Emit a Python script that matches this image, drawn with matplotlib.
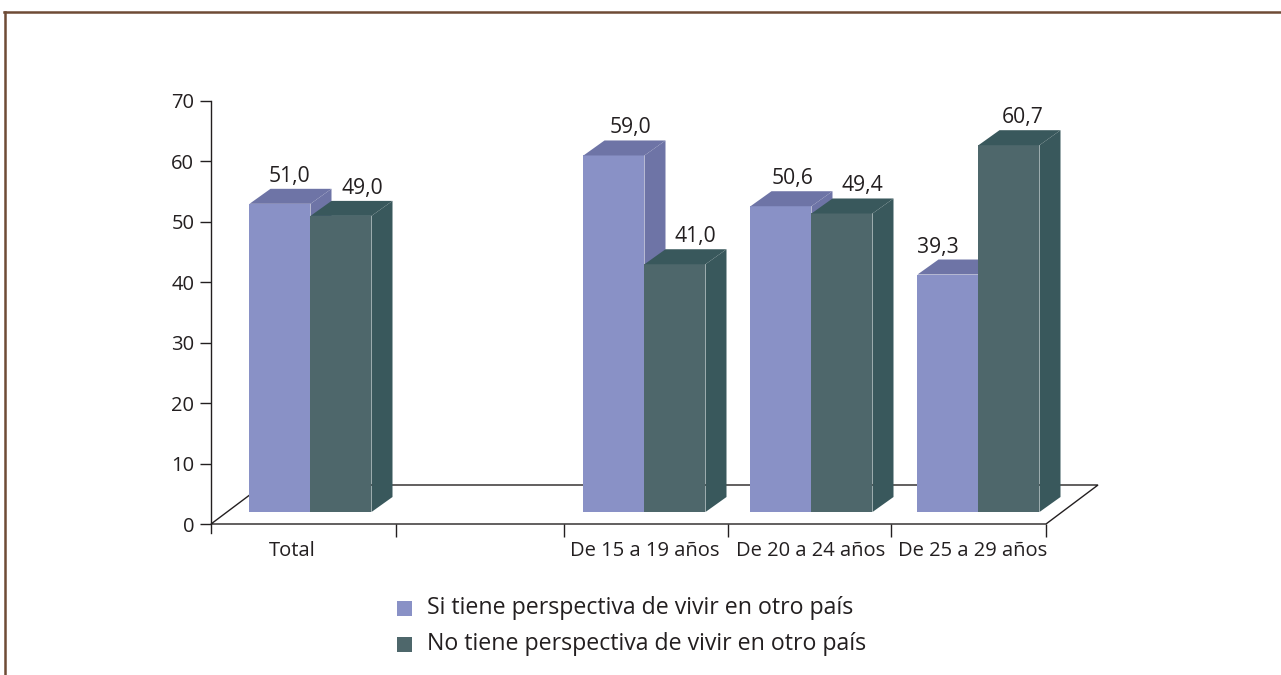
import matplotlib.pyplot as plt
from matplotlib.patches import Polygon, Rectangle
from matplotlib.lines import Line2D

# datos
categorias = ["Total", "De 15 a 19 años", "De 20 a 24 años", "De 25 a 29 años"]
posiciones = [0, 2, 3, 4]          # hueco vacío entre Total y los grupos de edad
si_tiene = [51.0, 59.0, 50.6, 39.3]
no_tiene = [49.0, 41.0, 49.4, 60.7]
series = ["Si tiene perspectiva de vivir en otro país",
          "No tiene perspectiva de vivir en otro país"]
etiquetas_y = [0, 10, 20, 30, 40, 50, 60, 70]

# colores (frente, techo/lateral)
col_si = ("#8991c6", "#6e74a6")
col_no = ("#4e676b", "#39585c")
texto = "#231f20"
marco = "#6e4b35"

plt.rcParams["font.family"] = ["Open Sans", "DejaVu Sans"]
plt.rcParams["font.size"] = 14.5

W, H = 1281, 675
fig = plt.figure(figsize=(W / 100, H / 100), dpi=100)

# caja de ejes en pixeles (izq, arriba, der, abajo)
L, T, R, B = 211, 101, 1046, 524
ax = fig.add_axes([L / W, 1 - B / H, (R - L) / W, (B - T) / H])
xmin, xmax = -0.5, 4.5
ymax = 70
ax.set_xlim(xmin, xmax)
ax.set_ylim(0, ymax)
for s in ax.spines.values():
    s.set_visible(False)


def pxx(p):
    return p * (xmax - xmin) / (R - L)


def pxy(p):
    return p * ymax / (B - T)


# profundidades en pixeles
fondo_dx, fondo_dy = pxx(52), pxy(39)      # piso
plano_dx, plano_dy = pxx(16), pxy(12)      # plano de las barras
barra_dx, barra_dy = pxx(21), pxy(15)      # profundidad de cada barra
ancho = pxx(61)

# piso
piso = Polygon([(xmin, 0), (xmax, 0), (xmax + fondo_dx, fondo_dy),
                (xmin + fondo_dx, fondo_dy)], closed=True, facecolor="white",
               edgecolor=texto, lw=1, zorder=1, clip_on=False)
ax.add_patch(piso)

# eje y prolongado bajo el piso
ax.add_line(Line2D([xmin, xmin], [-pxy(9), ymax], color=texto, lw=1,
                   clip_on=False, zorder=2))
ax.set_yticks(etiquetas_y)
ax.tick_params(axis="y", direction="out", length=8, width=1, color=texto,
               labelcolor=texto, pad=4)

# marcas del eje x
marcas_x = [0.608, 1.614, 2.596, 3.572, xmax]
ax.set_xticks(marcas_x)
ax.set_xticklabels([])
ax.tick_params(axis="x", direction="out", length=9, width=1, color=texto)

# desplazamiento horizontal de cada rótulo de valor (pixeles)
ajuste_si = [10, 17, 12, -10]
ajuste_no = [21, 20, 20, 14]

z = 3
for i, x in enumerate(posiciones):
    for k, (vals, cols, aj) in enumerate(((si_tiene, col_si, ajuste_si),
                                          (no_tiene, col_no, ajuste_no))):
        v = vals[i]
        x0 = x - ancho + k * ancho + plano_dx
        y0 = plano_dy
        ax.bar(x0, v, width=ancho, bottom=y0, align="edge", color=cols[0],
               zorder=z, clip_on=False, lw=0)
        techo = Polygon([(x0, y0 + v), (x0 + ancho, y0 + v),
                         (x0 + ancho + barra_dx, y0 + v + barra_dy),
                         (x0 + barra_dx, y0 + v + barra_dy)],
                        closed=True, facecolor=cols[1], lw=0, zorder=z,
                        clip_on=False)
        lado = Polygon([(x0 + ancho, y0), (x0 + ancho + barra_dx, y0 + barra_dy),
                        (x0 + ancho + barra_dx, y0 + v + barra_dy),
                        (x0 + ancho, y0 + v)],
                       closed=True, facecolor=cols[1], lw=0, zorder=z,
                       clip_on=False)
        ax.add_patch(techo)
        ax.add_patch(lado)
        ax.annotate(f"{v:.1f}".replace(".", ","),
                    xy=(x0 + ancho / 2, y0 + v + barra_dy),
                    xytext=(aj[i], 7), textcoords="offset pixels",
                    ha="center", va="baseline", color=texto, zorder=10,
                    fontsize=15.2, annotation_clip=False)
        z += 1

# rótulos de categorías
pos_rotulo = [-0.015, 2.1, 3.093, 4.063]
for c, xr in zip(categorias, pos_rotulo):
    ax.text(xr, -pxy(27), c, ha="center", va="center", color=texto,
            clip_on=False)

# leyenda
for j, (nombre, cols) in enumerate(zip(series, (col_si, col_no))):
    yc = 608 + j * 36
    fig.patches.append(Rectangle((397 / W, 1 - (yc + 7.5) / H), 15 / W, 15 / H,
                                 transform=fig.transFigure, facecolor=cols[0],
                                 lw=0))
    fig.text(427 / W, 1 - yc / H, nombre, ha="left", va="center", color=texto,
             fontsize=16.7)

# marco marrón
fig.add_artist(Line2D([4 / W, 1], [1 - 12 / H, 1 - 12 / H],
                      transform=fig.transFigure, color=marco, lw=1.8))
fig.add_artist(Line2D([5 / W, 5 / W], [1 - 12 / H, 0],
                      transform=fig.transFigure, color=marco, lw=1.8))

fig.savefig("out.png", dpi=100)
